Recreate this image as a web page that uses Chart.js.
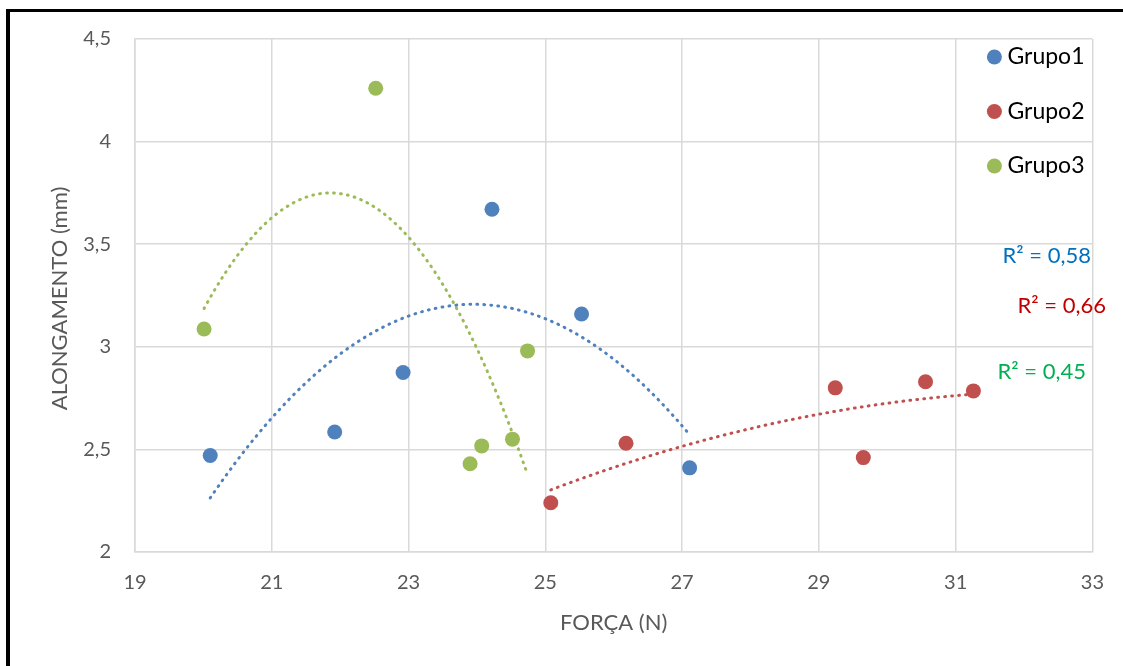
<!DOCTYPE html>
<html>
<head>
<meta charset="utf-8">
<title>Alongamento x Força</title>
<script src="https://cdn.jsdelivr.net/npm/chart.js@4/dist/chart.umd.min.js"></script>
<style>
  html, body { margin: 0; padding: 0; background: #fff; }
  #wrap { position: relative; width: 1123px; height: 666px; overflow: hidden; }
  #frame { position: absolute; left: 6px; top: 9px; width: 1300px; height: 800px; border-left: 4px solid #000; border-top: 3px solid #000; pointer-events: none; }
  canvas { position: absolute; left: 0; top: 0; }
</style>
</head>
<body>
<div id="wrap">
  <canvas id="chart" width="1123" height="666"></canvas>
  <div id="frame"></div>
</div>
<script>
const groupLabels = ['Grupo1', 'Grupo2', 'Grupo3'];
const groupColors = ['#4F81BD', '#C0504D', '#9BBB59'];
const r2Labels = ['R² = 0,58', 'R² = 0,66', 'R² = 0,45'];
const r2Colors = ['#0070C0', '#C00000', '#00B050'];

// FORÇA (N) / ALONGAMENTO (mm) per group
const forcaGrupo1 = [20.10, 21.92, 22.92, 24.22, 25.53, 27.11];
const alongGrupo1 = [2.47, 2.585, 2.875, 3.67, 3.16, 2.41];
const forcaGrupo2 = [25.08, 26.18, 29.24, 29.65, 30.56, 31.26];
const alongGrupo2 = [2.24, 2.53, 2.80, 2.46, 2.83, 2.785];
const forcaGrupo3 = [20.01, 22.52, 23.90, 24.07, 24.52, 24.74];
const alongGrupo3 = [3.087, 4.26, 2.43, 2.517, 2.55, 2.98];

const xTickMin = 19, xTickMax = 33, xTickStep = 2;
const yTickMin = 2, yTickMax = 4.5, yTickStep = 0.5;
const xTitle = 'FORÇA (N)';
const yTitle = 'ALONGAMENTO (mm)';

const groupsX = [forcaGrupo1, forcaGrupo2, forcaGrupo3];
const groupsY = [alongGrupo1, alongGrupo2, alongGrupo3];

const FONT = 'Lato, "Open Sans", sans-serif';

// least squares fit y = c0 + c1*u + c2*u^2, u = x - mean
function fitQuadratic(xs, ys) {
    const n = xs.length;
    const mean = xs.reduce((a, b) => a + b, 0) / n;
    let s = [0, 0, 0, 0, 0], t = [0, 0, 0];
    xs.forEach((x, i) => {
        const u = x - mean;
        for (let k = 0; k < 5; k++) s[k] += Math.pow(u, k);
        for (let k = 0; k < 3; k++) t[k] += ys[i] * Math.pow(u, k);
    });
    const m = [
        [s[0], s[1], s[2], t[0]],
        [s[1], s[2], s[3], t[1]],
        [s[2], s[3], s[4], t[2]]
    ];
    for (let c = 0; c < 3; c++) {
        for (let r = c + 1; r < 3; r++) {
            const f = m[r][c] / m[c][c];
            for (let k = c; k < 4; k++) m[r][k] -= f * m[c][k];
        }
    }
    const coef = [0, 0, 0];
    for (let r = 2; r >= 0; r--) {
        let v = m[r][3];
        for (let k = r + 1; k < 3; k++) v -= m[r][k] * coef[k];
        coef[r] = v / m[r][r];
    }
    return (x) => coef[0] + coef[1] * (x - mean) + coef[2] * (x - mean) * (x - mean);
}

function trendPoints(xs, ys) {
    const f = fitQuadratic(xs, ys);
    const lo = Math.min(...xs), hi = Math.max(...xs);
    const pts = [];
    const steps = 80;
    for (let i = 0; i <= steps; i++) {
        const x = lo + (hi - lo) * i / steps;
        pts.push({ x: x, y: f(x) });
    }
    return pts;
}

const datasets = [];
groupLabels.forEach((label, g) => {
    datasets.push({
        type: 'scatter',
        label: label,
        data: groupsX[g].map((x, i) => ({ x: x, y: groupsY[g][i] })),
        backgroundColor: groupColors[g],
        borderColor: groupColors[g],
        pointRadius: 7.5,
        pointBorderWidth: 0,
        order: 1
    });
});
groupLabels.forEach((label, g) => {
    datasets.push({
        type: 'line',
        label: 'trend ' + label,
        data: trendPoints(groupsX[g], groupsY[g]),
        borderColor: groupColors[g],
        borderWidth: 3,
        borderDash: [0.8, 6.2],
        borderCapStyle: 'round',
        pointRadius: 0,
        fill: false,
        tension: 0,
        order: 0
    });
});

// legend drawn at the upper right, over the plot area
const legendPlugin = {
    id: 'sideLegend',
    afterDraw(chart) {
        const ctx = chart.ctx;
        const area = chart.chartArea;
        ctx.save();
        ctx.font = '23px ' + FONT;
        ctx.textBaseline = 'middle';
        ctx.textAlign = 'left';
        groupLabels.forEach((label, i) => {
            const y = area.top + 18 + i * 54.5;
            ctx.fillStyle = groupColors[i];
            ctx.beginPath();
            ctx.arc(area.right - 98, y, 7.5, 0, Math.PI * 2);
            ctx.fill();
            ctx.fillStyle = '#000';
            ctx.fillText(label, area.right - 85, y);
        });
        ctx.restore();
    }
};

// R² labels of the trendlines, plus the vertical axis title
const textPlugin = {
    id: 'extraText',
    afterDraw(chart) {
        const ctx = chart.ctx;
        const area = chart.chartArea;
        const pos = [[1091, 256], [1106, 306], [1086, 372]];
        ctx.save();
        ctx.font = '22px ' + FONT;
        ctx.textBaseline = 'middle';
        ctx.textAlign = 'right';
        r2Labels.forEach((txt, i) => {
            ctx.fillStyle = r2Colors[i];
            ctx.fillText(txt, pos[i][0], pos[i][1]);
        });

        ctx.translate(60, (area.top + area.bottom) / 2 + 3);
        ctx.rotate(-Math.PI / 2);
        ctx.textAlign = 'center';
        ctx.fillStyle = '#595959';
        ctx.fillText(yTitle, 0, 0);
        ctx.restore();
    }
};

new Chart(document.getElementById('chart'), {
    type: 'scatter',
    data: { datasets: datasets },
    options: {
        responsive: false,
        animation: false,
        devicePixelRatio: 1,
        layout: { padding: { left: 0, top: 39, right: 30, bottom: 0 } },
        plugins: {
            legend: { display: false },
            tooltip: { enabled: false }
        },
        scales: {
            x: {
                type: 'linear',
                min: xTickMin,
                max: xTickMax,
                afterFit: (scale) => { scale.height = 114; },
                ticks: {
                    stepSize: xTickStep,
                    color: '#595959',
                    font: { family: FONT, size: 20 },
                    padding: 19,
                    maxRotation: 0
                },
                grid: { color: '#d9d9d9', lineWidth: 1.5, drawTicks: false },
                border: { color: '#d9d9d9', width: 1.5 },
                title: {
                    display: true,
                    text: xTitle,
                    color: '#595959',
                    font: { family: FONT, size: 22 },
                    padding: { top: 0, bottom: 30 }
                }
            },
            y: {
                type: 'linear',
                min: yTickMin,
                max: yTickMax,
                afterFit: (scale) => { scale.width = 135; },
                ticks: {
                    stepSize: yTickStep,
                    color: '#595959',
                    font: { family: FONT, size: 20 },
                    padding: 24,
                    callback: (v) => String(v).replace('.', ',')
                },
                grid: { color: '#d9d9d9', lineWidth: 1.5, drawTicks: false },
                border: { color: '#d9d9d9', width: 1.5 },
                title: { display: false }
            }
        }
    },
    plugins: [legendPlugin, textPlugin]
});
</script>
</body>
</html>
